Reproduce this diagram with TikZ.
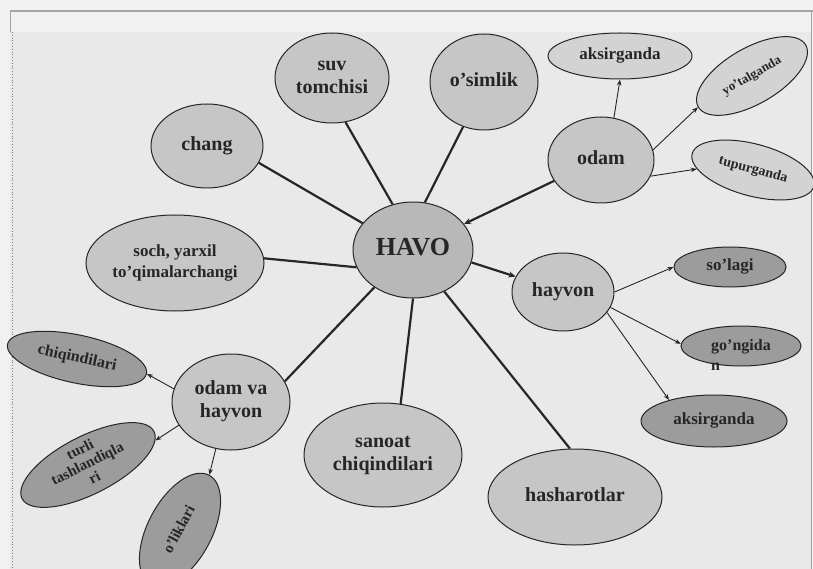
\documentclass[tikz,border=0pt]{standalone}
\usepackage{fontspec}
\setmainfont{Liberation Serif}
\usetikzlibrary{shapes.geometric,arrows.meta}
\definecolor{bg}{HTML}{E9E9E9}
\definecolor{bgtop}{HTML}{F1F1F1}
\definecolor{framec}{HTML}{A4A4A4}
\definecolor{fillA}{HTML}{C6C6C6}
\definecolor{fillH}{HTML}{B8B8B8}
\definecolor{fillD}{HTML}{9C9C9C}
\definecolor{fillL}{HTML}{D3D3D3}
\definecolor{ink}{HTML}{262626}
\newcommand\zb[2][c]{\makebox[0pt]{\raisebox{-.25em}[0pt][0pt]{\begin{tabular}{@{}#1@{}}#2\end{tabular}}}}
\newcommand\zbtop[1]{\makebox[0pt]{\raisebox{-.3em}[0pt][0pt]{\begin{tabular}[t]{@{}l@{}}#1\end{tabular}}}}
\begin{document}
\begin{tikzpicture}[x=1pt,y=-1pt,
  blob/.style={ellipse, draw=ink, line width=1pt, inner sep=0pt, fill=fillA,
    font=\bfseries\fontsize{20}{23}\selectfont, text=ink},
  spoke/.style={draw=ink, line width=2.2pt},
  spokearrow/.style={spoke, -{Stealth[length=7pt,width=6pt]}},
  leafarrow/.style={draw=ink, line width=0.9pt, -{Stealth[length=6pt,width=4.5pt]}},
]
\useasboundingbox (0,0) rectangle (813,569);
\fill[bgtop] (0,0) rectangle (813,569);
\fill[bg] (10,32) rectangle (811,569);
\fill[bgtop] (10,11) rectangle (811,32);
\draw[framec, line width=1.2pt] (10,11) -- (813,11);
\draw[framec, line width=0.8pt] (10,11) -- (10,32);
\draw[framec!80!black, line width=0.8pt, dotted] (12,32) -- (12,569);
\draw[framec, line width=1pt] (811,12) -- (811,569);

% main nodes
\node[blob, fill=fillH, minimum width=120pt, minimum height=96pt,
  font=\bfseries\fontsize{26}{28}\selectfont] (havo) at (413,250) {\zb{HAVO}};
\node[blob, minimum width=114pt, minimum height=90pt] (suv) at (332,78) {\zb{suv\\tomchisi}};
\node[blob, minimum width=108pt, minimum height=96pt] (osim) at (484,82) {\zb{o’simlik}};
\node[blob, minimum width=112pt, minimum height=84pt] (chang) at (207,146) {\zb{chang}};
\node[blob, minimum width=178pt, minimum height=96pt,
  font=\bfseries\fontsize{17}{21}\selectfont] (soch) at (175,263) {\zb{soch, yarxil\\to’qimalarchangi}};
\node[blob, minimum width=106pt, minimum height=86pt] (odam) at (601,160) {\zb{odam}};
\node[blob, minimum width=102pt, minimum height=78pt] (hayvon) at (563,292) {\zb{hayvon}};
\node[blob, minimum width=174pt, minimum height=96pt] (hashar) at (575,497) {\zb{hasharotlar}};
\node[blob, minimum width=158pt, minimum height=104pt] (sanoat) at (383,455) {\zb{sanoat\\chiqindilari}};
\node[blob, minimum width=118pt, minimum height=96pt] (odva) at (231,402) {\zb{odam va\\hayvon}};

% odam leaves
\node[blob, fill=fillL, minimum width=144pt, minimum height=46pt,
  font=\bfseries\fontsize{17}{19}\selectfont] (aks1) at (620,56) {\zb{aksirganda}};
\node[blob, fill=fillL, rotate=30, minimum width=124pt, minimum height=56pt,
  font=\bfseries\fontsize{13}{15}\selectfont] (yotal) at (752,76) {\zb{yo’talganda}};
\node[blob, fill=fillL, rotate=-15, minimum width=126pt, minimum height=52pt,
  font=\bfseries\fontsize{14}{16}\selectfont] (tupur) at (753,170) {\zb{tupurganda}};

% hayvon leaves
\node[blob, fill=fillD, minimum width=112pt, minimum height=40pt,
  font=\bfseries\fontsize{17}{19}\selectfont] (solagi) at (730,267) {\zb{so’lagi}};
\node[blob, fill=fillD, minimum width=120pt, minimum height=40pt,
  font=\bfseries\fontsize{16}{20}\selectfont] (gongidan) at (741,346) {\zbtop{go’ngida\\n}};
\node[blob, fill=fillD, minimum width=146pt, minimum height=52pt,
  font=\bfseries\fontsize{17}{19}\selectfont] (aks2) at (714,421) {\zb{aksirganda}};

% odam va hayvon leaves
\node[blob, fill=fillD, rotate=-12, minimum width=142pt, minimum height=48pt,
  font=\bfseries\fontsize{16}{18}\selectfont] (chiq) at (77,359) {\zb{chiqindilari}};
\node[blob, fill=fillD, rotate=27, minimum width=148pt, minimum height=58pt,
  font=\bfseries\fontsize{15}{16}\selectfont] (turli) at (88,465) {\zb{turli\\tashlandiqla\\ri}};
\node[blob, fill=fillD, rotate=62, minimum width=124pt, minimum height=64pt,
  font=\bfseries\fontsize{15}{17}\selectfont] (olik) at (180,530) {\zb{o’liklari}};

% spokes
\draw[spoke] (chang.-18) -- (havo.152);
\draw[spoke] (suv.-73) -- (havo.114);
\draw[spoke] (osim.-115) -- (havo.76);
\draw[spokearrow] (odam.204) -- (havo.27);
\draw[spoke] (soch.3) -- (havo.197);
\draw[spokearrow] (havo.-12) -- (hayvon.162);
\draw[spoke] (havo.-136) -- (odva.21);
\draw[spoke] (havo.-90) -- (sanoat.71);
\draw[spoke] (havo.-53) -- (hashar.96);

% leaf arrows
\draw[leafarrow] (odam.73) -- (aks1.-90);
\draw[leafarrow] (odam.11) -- (yotal.180);
\draw[leafarrow] (odam.-18) -- (tupur.194);
\draw[leafarrow] (hayvon.0) -- (solagi.180);
\draw[leafarrow] (hayvon.-18) -- (gongidan.178);
\draw[leafarrow] (hayvon.-25) -- (aks2.155);
\draw[leafarrow] (odva.167) -- (chiq.0);
\draw[leafarrow] (odva.204) -- (turli.-7);
\draw[leafarrow] (odva.-108) -- (olik.0);
\end{tikzpicture}
\end{document}
